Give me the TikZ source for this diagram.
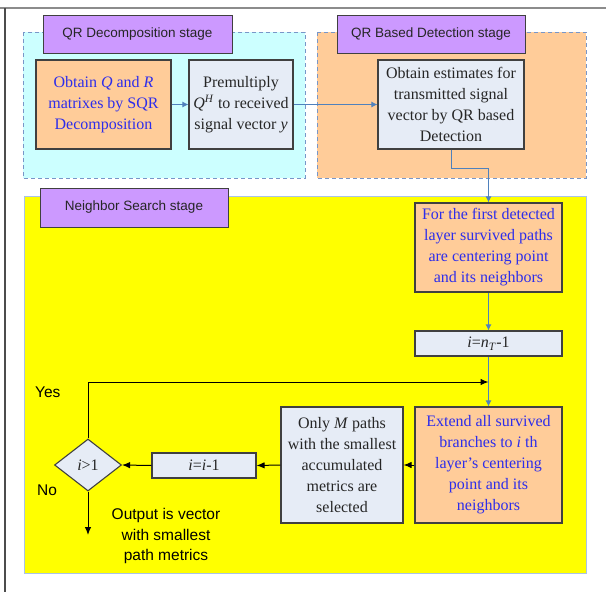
\documentclass[tikz,border=0pt]{standalone}
\usepackage{fontspec}
\setmainfont{Liberation Serif}
\setsansfont{Liberation Sans}
\usetikzlibrary{arrows.meta,shapes.geometric}
\definecolor{cyanfill}{RGB}{204,255,255}
\definecolor{peach}{RGB}{255,204,153}
\definecolor{greybox}{RGB}{230,236,246}
\definecolor{purplelab}{RGB}{204,153,255}
\definecolor{yel}{RGB}{255,255,0}
\definecolor{dashblue}{RGB}{120,150,200}
\definecolor{edgeblue}{RGB}{170,195,230}
\definecolor{txtblue}{RGB}{45,45,235}
\definecolor{linkblue}{RGB}{79,129,189}
\definecolor{boxedge}{RGB}{64,64,64}
\tikzset{
  region/.style={draw=dashblue, dash pattern=on 4pt off 3pt, line width=0.9pt},
  stagelab/.style={draw=boxedge, fill=purplelab, line width=1pt, font=\sffamily\fontsize{13.5}{16}\selectfont, inner sep=0pt, text=black!85},
  obox/.style={draw=boxedge, fill=peach, line width=1.1pt, align=center, font=\fontsize{16}{21}\selectfont, text=txtblue, inner sep=0pt},
  gbox/.style={draw=boxedge, fill=greybox, line width=1.1pt, align=center, font=\fontsize{16}{21}\selectfont, text=black!85, inner sep=0pt},
  dbox/.style={draw=boxedge, fill=greybox, line width=1.1pt, diamond, aspect=1.29, inner sep=0pt, font=\fontsize{16}{21}\selectfont, text=black!85},
  bluelink/.style={draw=linkblue, line width=1pt, -{Latex[length=6pt,width=6pt]}},
  blacklink/.style={draw=black, line width=1pt, -{Latex[length=8pt,width=6.5pt]}},
  sidetext/.style={font=\sffamily\fontsize{15.5}{20.5}\selectfont, align=center, inner sep=0pt, text=black}
}
\begin{document}
\begin{tikzpicture}[x=1pt,y=-1pt]
\useasboundingbox (0,0) rectangle (606,592);
\fill[white] (0,0) rectangle (606,592);
% outer frame
\draw[black!45, line width=1.6pt] (0,8) -- (606,8);
\draw[black!70, line width=1.2pt] (5,8) -- (5,592);
% regions
\path[region, fill=cyanfill] (23,32) rectangle (305,178);
\path[region, fill=peach] (317,32) rectangle (586,178);
\draw[edgeblue, line width=1pt, fill=yel] (24,196) rectangle (586,573);
% stage labels
\node[stagelab, minimum width=189pt, minimum height=38pt] (lab1) at (137.5,34) {QR Decomposition stage};
\node[stagelab, minimum width=188pt, minimum height=38pt] (lab2) at (431,34) {QR Based Detection stage};
\node[stagelab, minimum width=188pt, minimum height=39pt] (lab3) at (134,207.5) {Neighbor Search stage};
% boxes
\node[obox, minimum width=135pt, minimum height=89pt] (b1) at (103.5,104.5)
  {Obtain \textit{Q} and \textit{R}\\matrixes by SQR\\Decomposition};
\node[gbox, minimum width=104pt, minimum height=89pt] (b2) at (241,104.5)
  {Premultiply\\\textit{Q}\textsuperscript{\textit{H}} to received\\signal vector \textit{y}};
\node[gbox, minimum width=146pt, minimum height=89pt] (b3) at (451,104.5)
  {Obtain estimates for\\transmitted signal\\vector by QR based\\Detection};
\node[obox, minimum width=147pt, minimum height=89pt] (b4) at (488.5,247.5)
  {For the first detected\\layer survived paths\\are centering point\\and its neighbors};
\node[gbox, minimum width=147pt, minimum height=25pt] (b5) at (488.5,343.5)
  {\textit{i}=\textit{n}\textsubscript{\textit{T}}-1};
\node[obox, minimum width=147pt, minimum height=116pt] (b6) at (488.5,465)
  {Extend all survived\\branches to \textit{i} th\\layer’s centering\\point and its\\neighbors};
\node[gbox, minimum width=122pt, minimum height=116pt] (b7) at (342,465)
  {Only \textit{M} paths\\with the smallest\\accumulated\\metrics are\\selected};
\node[gbox, minimum width=104pt, minimum height=25pt] (b8) at (204,465.5)
  {\textit{i}=\textit{i}-1};
\node[dbox, minimum width=67pt, minimum height=52pt] (dia) at (88,465) {\textit{i}>1};
% side texts
\node[sidetext, anchor=west] (yes) at (35,392) {Yes};
\node[sidetext, anchor=west] (no) at (37,490) {No};
\node[sidetext] (out) at (166,536) {Output is vector\\with smallest\\path metrics};
\coordinate (yesend) at (488.5,382);
\coordinate (noend) at (88,535);
% connectors
\draw[bluelink] (b1.east) -- (b2.west);
\draw[bluelink] (b2.east) -- (b3.west);
\draw[bluelink] (b3.south) -- ++(0,19) -| (b4.north);
\draw[bluelink] (b4.south) -- (b5.north);
\draw[bluelink] (b5.south) -- (b6.north);
\draw[blacklink] (b6.west) -- (b7.east);
\draw[blacklink] (b7.west) -- (b8.east);
\draw[blacklink] (b8.west) -- (dia.east);
\draw[blacklink] (dia.north) |- (yesend);
\draw[blacklink] (dia.south) -- (noend);
\end{tikzpicture}
\end{document}
